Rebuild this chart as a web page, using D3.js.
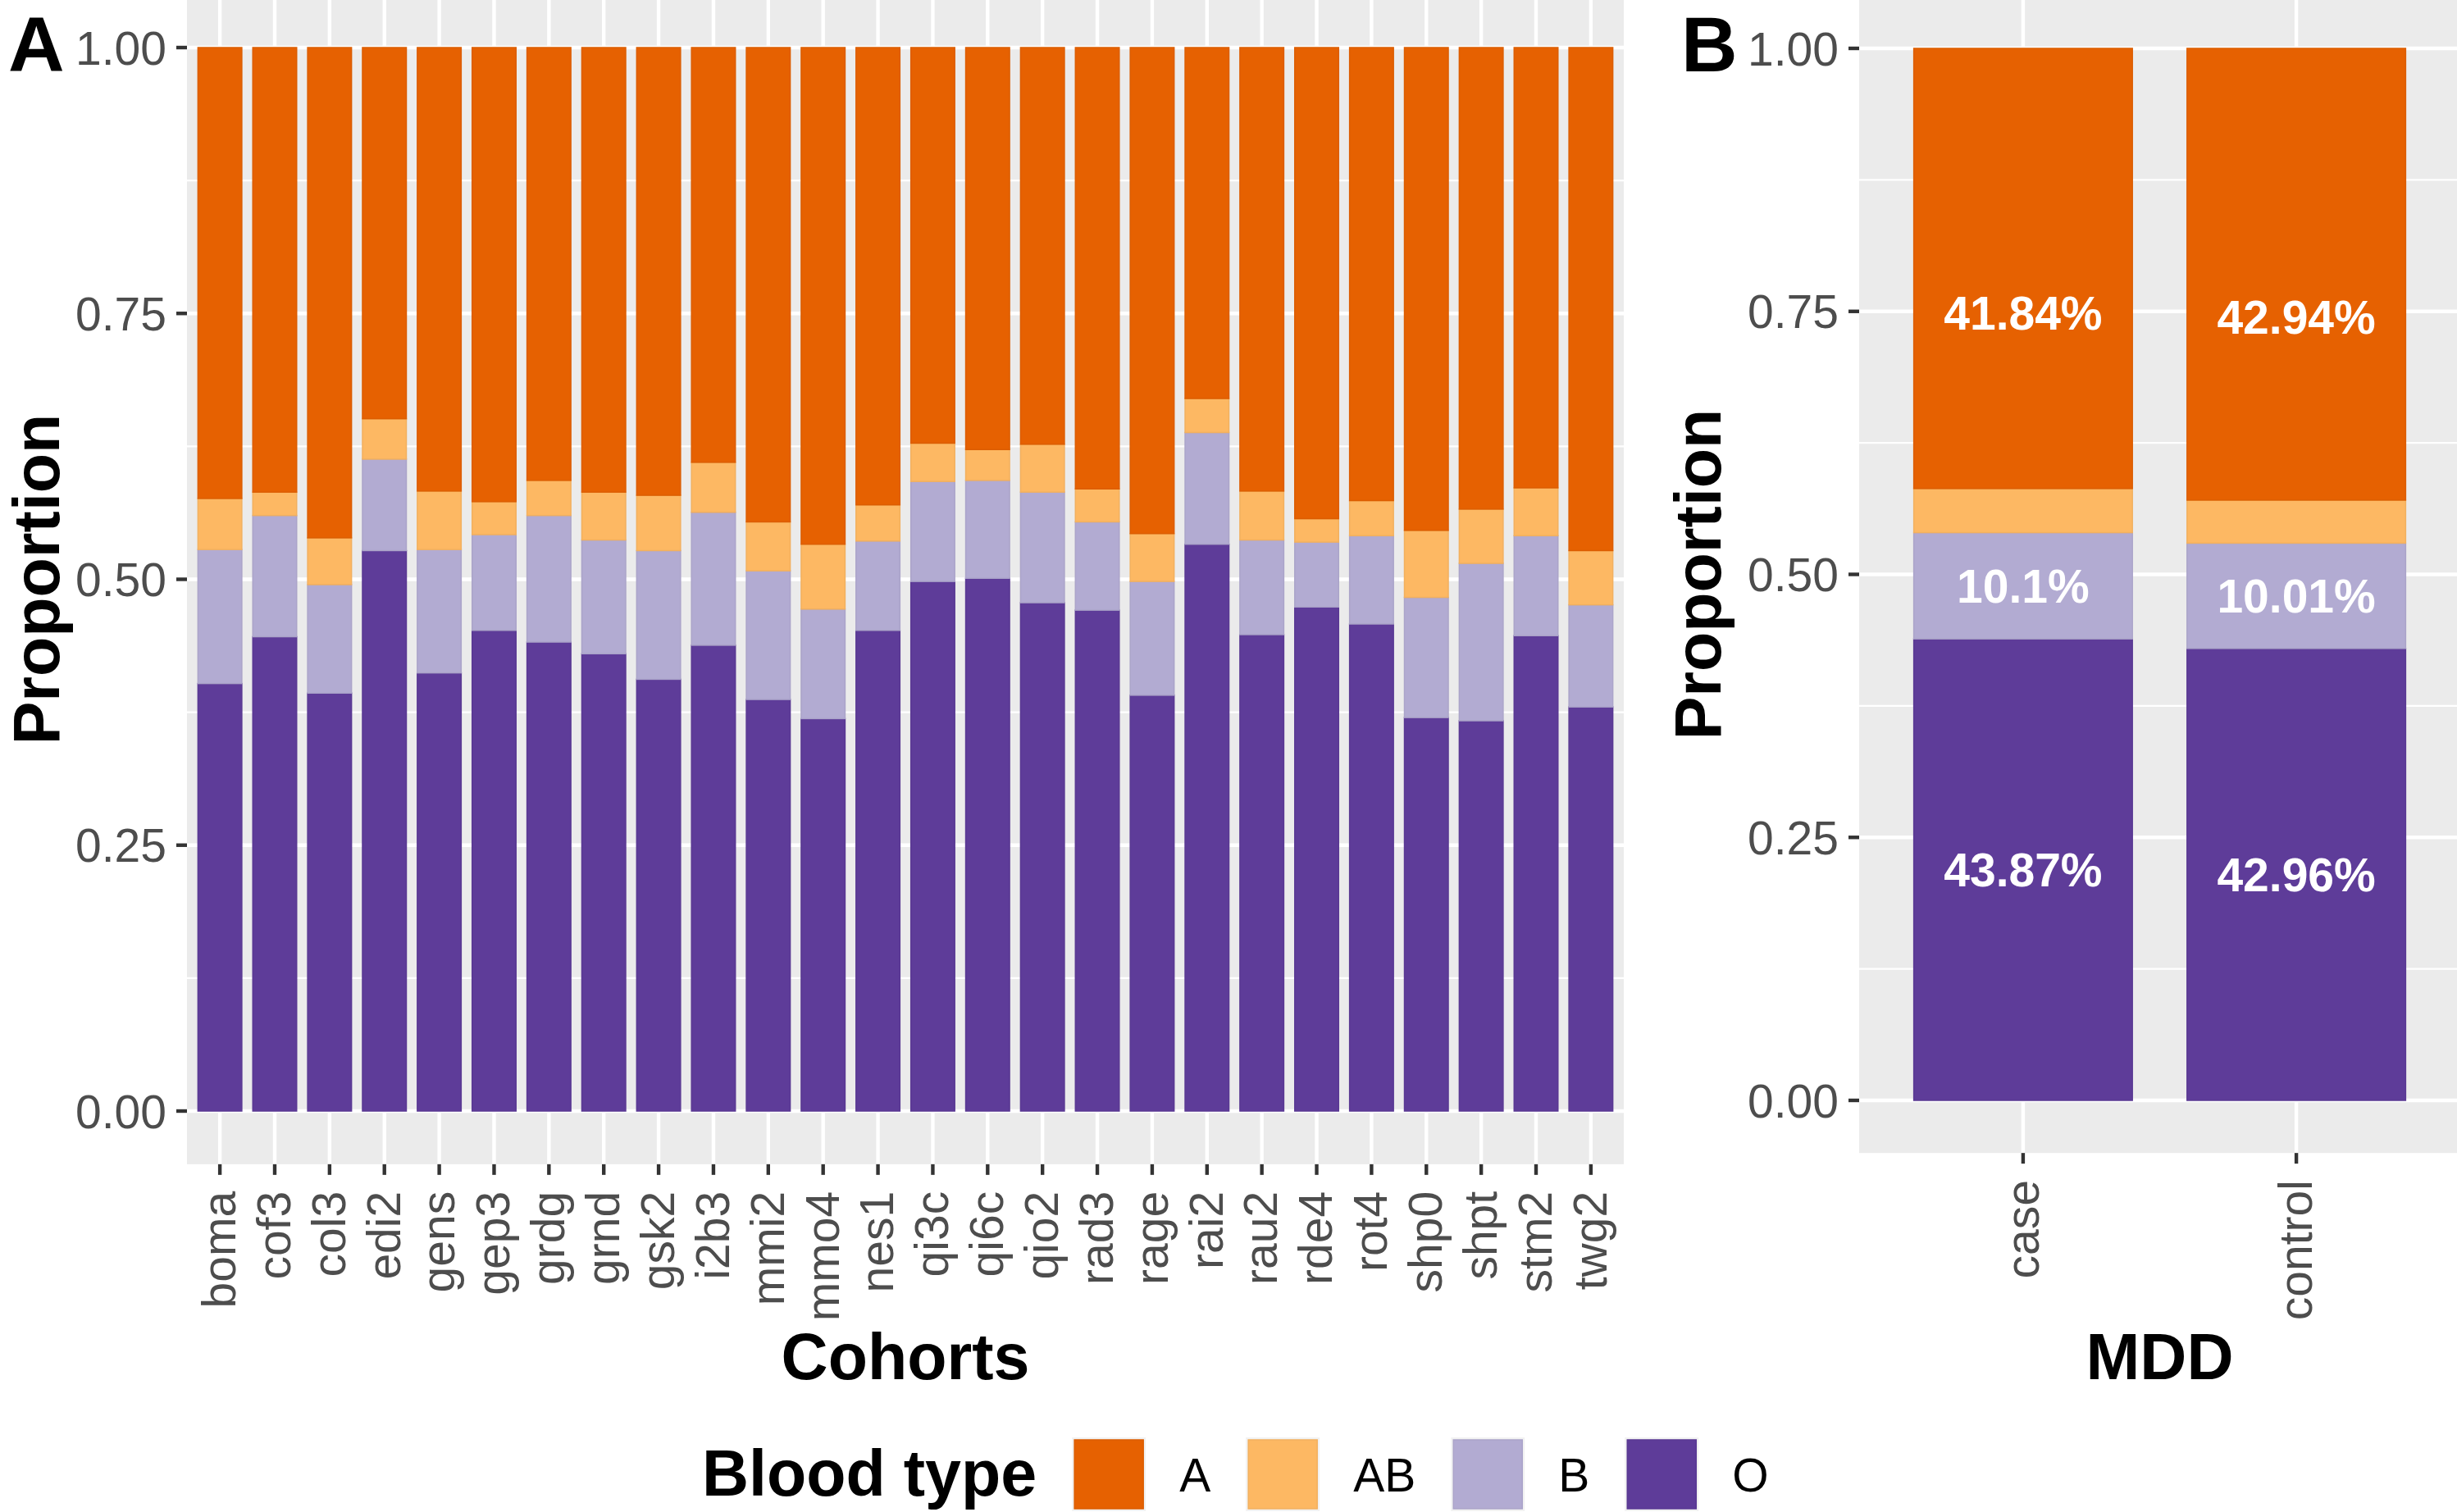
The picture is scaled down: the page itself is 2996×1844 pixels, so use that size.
<!DOCTYPE html>
<html>
<head>
<meta charset="utf-8">
<script src="https://cdn.jsdelivr.net/npm/d3@7"></script>
<style>
  html, body { margin: 0; padding: 0; background: #fff; }
  svg { display: block; font-family: "Liberation Sans", Arial, Helvetica, sans-serif; }
</style>
</head>
<body>
<svg id="chart" width="2996" height="1844"></svg>
<script>
// ---------------- DATA ----------------
const bloodTypes = ["A", "AB", "B", "O"];
const stackOrder = ["O", "B", "AB", "A"];
const colors = { A: "#E66101", AB: "#FDB863", B: "#B2ABD2", O: "#5E3C99" };

const cohorts = ["boma","cof3","col3","edi2","gens","gep3","grdg","grnd","gsk2","i2b3",
  "mmi2","mmo4","nes1","qi3c","qi6c","qio2","rad3","rage","rai2","rau2","rde4","rot4",
  "shp0","shpt","stm2","twg2"];
const cohortO  = [0.402,0.446,0.393,0.527,0.412,0.452,0.441,0.430,0.406,0.438,
  0.387,0.369,0.452,0.498,0.501,0.478,0.471,0.391,0.533,0.448,0.474,0.458,
  0.370,0.367,0.447,0.380];
const cohortB  = [0.126,0.114,0.102,0.086,0.116,0.090,0.119,0.107,0.121,0.125,
  0.121,0.103,0.084,0.094,0.092,0.104,0.083,0.107,0.105,0.089,0.061,0.083,
  0.113,0.148,0.094,0.096];
const cohortAB = [0.048,0.022,0.044,0.038,0.055,0.031,0.033,0.045,0.052,0.047,
  0.046,0.061,0.034,0.036,0.029,0.045,0.031,0.045,0.032,0.046,0.022,0.033,
  0.063,0.051,0.045,0.051];
const cohortA  = [0.424,0.418,0.461,0.349,0.417,0.427,0.407,0.418,0.421,0.390,
  0.446,0.467,0.430,0.372,0.378,0.373,0.415,0.457,0.330,0.417,0.443,0.426,
  0.454,0.434,0.414,0.473];

const mddGroups = ["case", "control"];
const mddA  = [41.84, 42.94];
const mddAB = [4.19, 4.09];
const mddB  = [10.1, 10.01];
const mddO  = [43.87, 42.96];

const yTicks = [0, 0.25, 0.5, 0.75, 1];
const yMinor = [0.125, 0.375, 0.625, 0.875];

// ---------------- SETUP ----------------
const svg = d3.select("#chart");
const FONT_TICK = 57, FONT_TITLE = 79;

const rowsA = cohorts.map((c, i) => ({ key: c, A: cohortA[i], AB: cohortAB[i], B: cohortB[i], O: cohortO[i] }));
const rowsB = mddGroups.map((g, i) => ({ key: g, A: mddA[i] / 100, AB: mddAB[i] / 100, B: mddB[i] / 100, O: mddO[i] / 100 }));

function drawPanel(cfg) {
  const { rows, left, right, y0px, y1px, xTitle, tag, tagX, yTitleX } = cfg;
  const x = d3.scaleBand().domain(rows.map(d => d.key)).range([left, right])
    .paddingInner(0.2).paddingOuter(0.2);
  const y = d3.scaleLinear().domain([0, 1]).range([y0px, y1px]);
  const top = Math.max(0, y(1.05)), bottom = y(-0.05);

  const g = svg.append("g");
  g.append("rect").attr("x", left).attr("y", top).attr("width", right - left)
    .attr("height", bottom - top).attr("fill", "#EBEBEB");

  // grid
  g.selectAll(".ymin").data(yMinor).join("line")
    .attr("x1", left).attr("x2", right).attr("y1", d => y(d)).attr("y2", d => y(d))
    .attr("stroke", "#fff").attr("stroke-width", 2.2);
  g.selectAll(".ymaj").data(yTicks).join("line")
    .attr("x1", left).attr("x2", right).attr("y1", d => y(d)).attr("y2", d => y(d))
    .attr("stroke", "#fff").attr("stroke-width", 4.4);
  g.selectAll(".xmaj").data(rows).join("line")
    .attr("x1", d => x(d.key) + x.bandwidth() / 2).attr("x2", d => x(d.key) + x.bandwidth() / 2)
    .attr("y1", top).attr("y2", bottom)
    .attr("stroke", "#fff").attr("stroke-width", 4.4);

  // bars
  const series = d3.stack().keys(stackOrder)(rows);
  g.selectAll(".series").data(series).join("g")
    .attr("fill", s => colors[s.key])
    .attr("stroke", s => d3.color(colors[s.key]).darker(0.12))
    .attr("stroke-width", 1.5)
    .selectAll("rect").data(s => s).join("rect")
    .attr("x", d => x(d.data.key)).attr("width", x.bandwidth())
    .attr("y", d => y(d[1])).attr("height", d => y(d[0]) - y(d[1]));

  // y axis
  const tickLen = 13;
  g.selectAll(".ytick").data(yTicks).join("line")
    .attr("x1", left - tickLen).attr("x2", left).attr("y1", d => y(d)).attr("y2", d => y(d))
    .attr("stroke", "#333333").attr("stroke-width", 4.4);
  g.selectAll(".ylab").data(yTicks).join("text")
    .attr("x", left - tickLen - 12).attr("y", d => y(d)).attr("dy", "0.36em")
    .attr("text-anchor", "end").attr("font-size", FONT_TICK).attr("fill", "#4D4D4D")
    .text(d => d3.format(".2f")(d));

  // x axis
  g.selectAll(".xtick").data(rows).join("line")
    .attr("x1", d => x(d.key) + x.bandwidth() / 2).attr("x2", d => x(d.key) + x.bandwidth() / 2)
    .attr("y1", bottom).attr("y2", bottom + tickLen)
    .attr("stroke", "#333333").attr("stroke-width", 4.4);
  g.selectAll(".xlab").data(rows).join("text")
    .attr("transform", d => `translate(${x(d.key) + x.bandwidth() / 2},${bottom + tickLen + 20}) rotate(-90)`)
    .attr("dy", "0.33em").attr("text-anchor", "end")
    .attr("font-size", FONT_TICK).attr("fill", "#4D4D4D")
    .text(d => d.key);

  // titles
  g.append("text").attr("x", (left + right) / 2).attr("y", 1682)
    .attr("text-anchor", "middle").attr("font-size", FONT_TITLE).attr("font-weight", "bold")
    .text(xTitle);
  g.append("text").attr("transform", `translate(${yTitleX},${(y(0) + y(1)) / 2}) rotate(-90)`)
    .attr("text-anchor", "middle").attr("font-size", FONT_TITLE).attr("font-weight", "bold")
    .text("Proportion");
  g.append("text").attr("x", tagX).attr("y", 87)
    .attr("font-size", 95).attr("font-weight", "bold").text(tag);

  return { g, x, y };
}

// Panel A
drawPanel({ rows: rowsA, left: 228, right: 1980, y0px: 1355, y1px: 58,
  xTitle: "Cohorts", tag: "A", tagX: 10, yTitleX: 72 });

// Panel B
const pB = drawPanel({ rows: rowsB, left: 2267, right: 3000, y0px: 1342, y1px: 59,
  xTitle: "MDD", tag: "B", tagX: 2050, yTitleX: 2098 });

// Percentage labels in panel B (O, B, A cumulated as in the original)
const labelData = [];
mddGroups.forEach((gname, i) => {
  const o = mddO[i] / 100, b = mddB[i] / 100, a = mddA[i] / 100;
  labelData.push({ key: gname, pos: o / 2, text: mddO[i] + "%" });
  labelData.push({ key: gname, pos: o + b / 2, text: mddB[i] + "%" });
  labelData.push({ key: gname, pos: o + b + a / 2, text: mddA[i] + "%" });
});
pB.g.selectAll(".pct").data(labelData).join("text")
  .attr("x", d => pB.x(d.key) + pB.x.bandwidth() / 2).attr("y", d => pB.y(d.pos))
  .attr("dy", "0.36em").attr("text-anchor", "middle")
  .attr("font-size", 57).attr("font-weight", "bold").attr("fill", "#fff")
  .text(d => d.text);

// Legend
const lg = svg.append("g");
const keySize = 84, keyTop = 1756, midY = keyTop + keySize / 2;
let cx = 856;
const title = lg.append("text").attr("x", cx).attr("y", midY).attr("dy", "0.33em")
  .attr("font-size", FONT_TITLE).attr("font-weight", "bold").text("Blood type");
cx += title.node().getComputedTextLength() + 46;
bloodTypes.forEach(bt => {
  lg.append("rect").attr("x", cx - 3).attr("y", keyTop - 3).attr("width", keySize + 6)
    .attr("height", keySize + 6).attr("fill", "#F2F2F2");
  lg.append("rect").attr("x", cx).attr("y", keyTop).attr("width", keySize).attr("height", keySize)
    .attr("fill", colors[bt]).attr("stroke", d3.color(colors[bt]).darker(0.12)).attr("stroke-width", 1.5);
  cx += keySize + 44;
  const t = lg.append("text").attr("x", cx).attr("y", midY).attr("dy", "0.36em")
    .attr("font-size", FONT_TICK).attr("fill", "#000").text(bt);
  cx += t.node().getComputedTextLength() + 46;
});
</script>
</body>
</html>
